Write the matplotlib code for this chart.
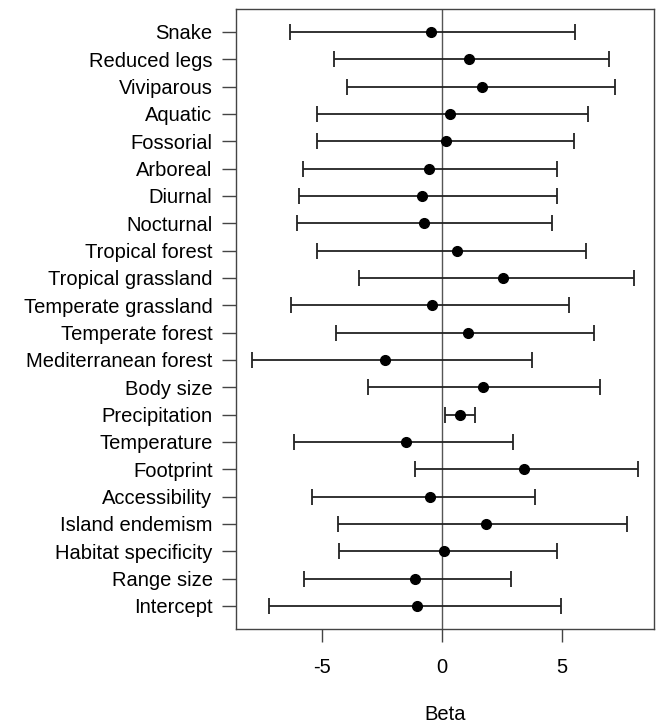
import numpy as np
from matplotlib import pyplot as plt

plt.rcParams['font.family'] = ['Liberation Sans', 'DejaVu Sans']

labels = ['Snake', 'Reduced legs', 'Viviparous', 'Aquatic', 'Fossorial',
          'Arboreal', 'Diurnal', 'Nocturnal', 'Tropical forest',
          'Tropical grassland', 'Temperate grassland', 'Temperate forest',
          'Mediterranean forest', 'Body size', 'Precipitation', 'Temperature',
          'Footprint', 'Accessibility', 'Island endemism',
          'Habitat specificity', 'Range size', 'Intercept']
beta = [-0.46, 1.12, 1.69, 0.35, 0.17, -0.54, -0.81, -0.75, 0.62, 2.57,
        -0.39, 1.08, -2.35, 1.72, 0.78, -1.47, 3.43, -0.49, 1.83, 0.08,
        -1.13, -1.04]
lower = [-6.31, -4.49, -3.97, -5.20, -5.21, -5.79, -5.97, -6.02, -5.20,
         -3.46, -6.27, -4.40, -7.92, -3.06, 0.12, -6.17, -1.11, -5.40,
         -4.31, -4.30, -5.74, -7.22]
upper = [5.55, 6.97, 7.23, 6.08, 5.53, 4.82, 4.79, 4.61, 6.01, 8.00, 5.30,
         6.33, 3.75, 6.58, 1.39, 2.97, 8.19, 3.87, 7.71, 4.82, 2.89, 4.99]

beta = np.array(beta)
lower = np.array(lower)
upper = np.array(upper)
ypos = np.arange(len(labels), 0, -1)

fig = plt.figure(figsize=(6.56, 7.24), dpi=100)
ax = fig.add_axes([0.36, 0.131, 0.637, 0.857])

ax.axvline(0, color='#555555', lw=1.0, zorder=1)
ax.errorbar(beta, ypos, xerr=[beta - lower, upper - beta], fmt='o',
            color='black', ecolor='#222222', elinewidth=1.3, capsize=6,
            capthick=1.3, markersize=7, zorder=3)

ax.set_xlim(-8.57, 8.85)
ax.set_ylim(0.15, len(labels) + 0.85)
ax.set_yticks(ypos)
ax.set_yticklabels(labels, fontsize=14.5)
ax.set_xticks([-5, 0, 5])
ax.set_xticklabels(['-5', '0', '5'], fontsize=14.5)
ax.tick_params(axis='y', length=10, width=1.0, color='#444444', pad=7)
ax.tick_params(axis='x', length=9, width=1.0, color='#444444', pad=12)
for s in ax.spines.values():
    s.set_color('#444444')
    s.set_linewidth(1.0)
fig.text(0.678, 1 - 714 / 724, 'Beta', fontsize=14.5, ha='center', va='center')

fig.savefig('out.png', dpi=100)
